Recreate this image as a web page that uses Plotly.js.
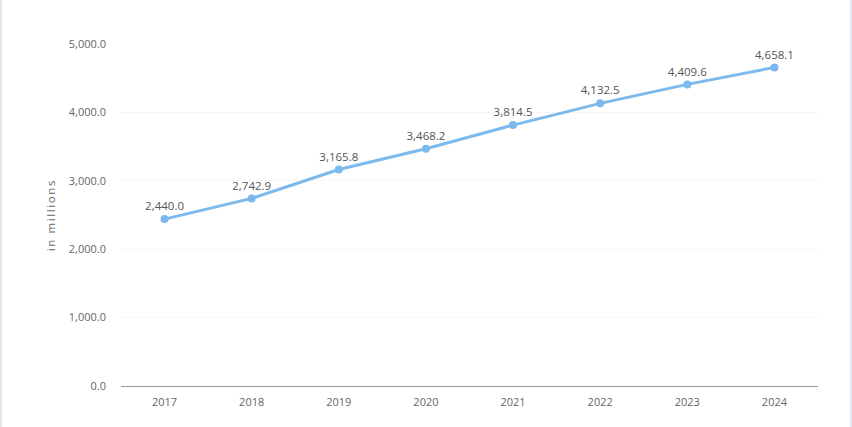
<!DOCTYPE html>
<html>
<head>
<meta charset="utf-8">
<script src="https://cdn.plot.ly/plotly-3.0.1.min.js"></script>
<style>
html,body{margin:0;padding:0;background:#fff;overflow:hidden;}
#chart{width:852px;height:427px;}
.edge{position:absolute;top:0;width:2px;height:427px;background:#e4e9f1;}
#chart .ytitle{letter-spacing:1.6px;}
</style>
</head>
<body>
<div id="chart"></div>
<div class="edge" style="left:0"></div>
<div class="edge" style="left:850px"></div>
<script>
const years = ["2017","2018","2019","2020","2021","2022","2023","2024"];
const values = [2440.0, 2742.9, 3165.8, 3468.2, 3814.5, 4132.5, 4409.6, 4658.1];
const yTitle = "in millions";

const labels = values.map(v => v.toLocaleString("en-US", {minimumFractionDigits:1, maximumFractionDigits:1}));

Plotly.newPlot("chart", [{
  x: years,
  y: values,
  type: "scatter",
  mode: "lines+markers+text",
  text: labels,
  textposition: "top center",
  textfont: {family: "Open Sans, Liberation Sans, sans-serif", size: 11.5, color: "#555"},
  line: {color: "#7cb9ec", width: 3},
  marker: {color: "#7cb9ec", size: 8},
  hoverinfo: "none",
  cliponaxis: false
}], {
  width: 852,
  height: 427,
  margin: {l: 121, r: 34, t: 44, b: 41},
  paper_bgcolor: "#fff",
  plot_bgcolor: "#fff",
  showlegend: false,
  font: {family: "Open Sans, Liberation Sans, sans-serif", size: 11, color: "#666"},
  xaxis: {
    type: "category",
    range: [-0.5, 7.5],
    showgrid: false,
    showline: true,
    linecolor: "#999",
    linewidth: 1,
    ticks: "",
    tickfont: {size: 11, color: "#666"},
    ticklabelstandoff: 6,
    zeroline: false,
    fixedrange: true
  },
  yaxis: {
    range: [0, 5000],
    dtick: 1000,
    tickformat: ",.1f",
    showgrid: true,
    gridcolor: "#e0e0e0",
    griddash: "1px,3px",
    gridwidth: 1,
    zeroline: false,
    showline: false,
    ticks: "",
    ticklabelstandoff: 14,
    tickfont: {size: 11, color: "#666"},
    title: {text: yTitle, font: {size: 11.5, color: "#666"}, standoff: 10},
    fixedrange: true
  }
}, {displayModeBar: false, staticPlot: true});
</script>
</body>
</html>
